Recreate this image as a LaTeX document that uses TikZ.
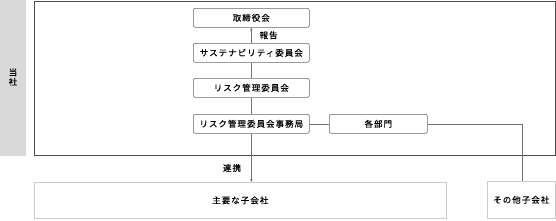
\documentclass[tikz,border=0pt]{standalone}
\usepackage{fontspec}
\setmainfont{Noto Sans CJK JP}[FakeBold=0.3,LetterSpace=12]
\usetikzlibrary{arrows.meta}
\begin{document}
\begin{tikzpicture}[x=1bp,y=-1bp,
  font=\fontsize{8.5bp}{10bp}\selectfont,
  orgbox/.style={draw=black!60,rounded corners=2bp,line width=0.6bp,minimum width=116bp,minimum height=19bp,inner sep=0pt,anchor=north west},
  subbox/.style={draw=black!20,line width=0.6bp,inner sep=0pt,anchor=north west},
  conn/.style={draw=black!55,line width=0.6bp},
  arr/.style={conn,-{Stealth[length=3bp,width=2.5bp]}}]
\useasboundingbox (0,0) rectangle (556,220);
% band
\fill[black!15] (0,0) rectangle (26,156);
\node (tosha) at (13,77) [align=center,inner sep=0pt,font=\fontsize{8.5bp}{9.5bp}\selectfont] {当\\社};
% company frame
\draw[black!70,line width=0.8bp] (34,1) rectangle (555,155);
% nodes
\node[orgbox] (board) at (193,8) {取締役会};
\node[orgbox] (sus) at (193,43) {サステナビリティ委員会};
\node[orgbox] (risk) at (193,78) {リスク管理委員会};
\node[orgbox] (office) at (193,114) {リスク管理委員会事務局};
\node[orgbox,minimum width=98bp] (dept) at (329,114) {各部門};
\node[subbox,minimum width=412bp,minimum height=36bp] (main) at (34,182) {主要な子会社};
\node[subbox,minimum width=68bp,minimum height=37bp] (other) at (487,181) {その他子会社};
% connectors
\draw[arr] (sus.north) -- node[right=8bp,inner sep=0pt] (lblrep) {報告} (board.south);
\draw[conn] (risk.north) -- (sus.south);
\draw[conn] (office.north) -- (risk.south);
\draw[conn] (office.east) -- (dept.west);
\draw[conn] (dept.east) -| (other.north -| 522,0);
\draw[arr] (office.south) -- (office.south |- main.north);
\node (lblcoop) at (232,168) [inner sep=0pt] {連携};
\end{tikzpicture}
\end{document}
